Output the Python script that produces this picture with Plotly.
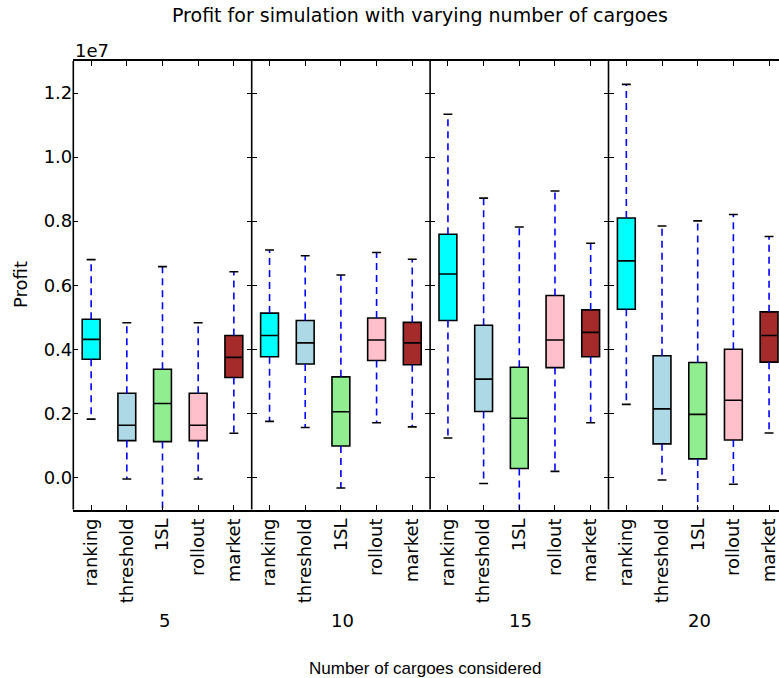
import plotly.graph_objects as go

# Strategies compared in each panel and the cargo counts that define the panels
strategies = ["ranking", "threshold", "1SL", "rollout", "market"]
cargo_counts = ["5", "10", "15", "20"]
box_colors = ["cyan", "lightblue", "lightgreen", "pink", "brown"]

# Box statistics per panel (profit), one entry per strategy
lower_whisker = {
    "5":  [1.82e6, -0.05e6, -1.50e6, -0.05e6, 1.38e6],
    "10": [1.75e6, 1.56e6, -0.33e6, 1.71e6, 1.58e6],
    "15": [1.23e6, -0.19e6, -1.80e6, 0.19e6, 1.71e6],
    "20": [2.28e6, -0.08e6, -2.00e6, -0.21e6, 1.39e6],
}
q1 = {
    "5":  [3.69e6, 1.15e6, 1.12e6, 1.15e6, 3.12e6],
    "10": [3.77e6, 3.54e6, 0.98e6, 3.65e6, 3.52e6],
    "15": [4.90e6, 2.06e6, 0.28e6, 3.43e6, 3.77e6],
    "20": [5.25e6, 1.05e6, 0.58e6, 1.17e6, 3.60e6],
}
median = {
    "5":  [4.31e6, 1.63e6, 2.31e6, 1.63e6, 3.75e6],
    "10": [4.43e6, 4.20e6, 2.05e6, 4.29e6, 4.20e6],
    "15": [6.35e6, 3.07e6, 1.85e6, 4.29e6, 4.53e6],
    "20": [6.76e6, 2.14e6, 1.97e6, 2.41e6, 4.43e6],
}
q3 = {
    "5":  [4.94e6, 2.63e6, 3.38e6, 2.63e6, 4.43e6],
    "10": [5.13e6, 4.90e6, 3.14e6, 4.98e6, 4.84e6],
    "15": [7.59e6, 4.75e6, 3.44e6, 5.68e6, 5.23e6],
    "20": [8.10e6, 3.80e6, 3.59e6, 4.00e6, 5.17e6],
}
upper_whisker = {
    "5":  [6.80e6, 4.83e6, 6.58e6, 4.83e6, 6.42e6],
    "10": [7.10e6, 6.92e6, 6.32e6, 7.02e6, 6.81e6],
    "15": [11.34e6, 8.72e6, 7.82e6, 8.94e6, 7.31e6],
    "20": [12.27e6, 7.85e6, 8.01e6, 8.21e6, 7.52e6],
}

y_ticks = [0, 2e6, 4e6, 6e6, 8e6, 10e6, 12e6]
y_tick_text = ["0.0", "0.2", "0.4", "0.6", "0.8", "1.0", "1.2"]

W, H = 779, 678
FONT = "DejaVu Sans"


def fx(x):
    return x / W


def fy(y):
    return 1 - y / H


panel_left = [73.3, 251.7, 430.1, 608.5]
panel_w = 178.4
unit = panel_w / 5.0
plot_top, plot_bottom = 61, 509.5
y_dom = [fy(plot_bottom), fy(plot_top)]
box_w = 0.5
cap_half = 0.125

fig = go.Figure()
layout_axes = {}

for g, n in enumerate(cargo_counts):
    sfx = "" if g == 0 else str(g + 1)
    xa, ya = "x" + sfx, "y" + sfx
    for i, name in enumerate(strategies):
        pos = i + 1
        lo, a, m, b, hi = (lower_whisker[n][i], q1[n][i], median[n][i],
                           q3[n][i], upper_whisker[n][i])
        # dashed whiskers
        fig.add_trace(go.Scatter(
            x=[pos, pos, None, pos, pos], y=[b, hi, None, a, lo],
            mode="lines", line=dict(color="blue", width=1.6, dash="7px,5px"),
            hoverinfo="skip", showlegend=False, xaxis=xa, yaxis=ya))
        # whisker caps
        fig.add_trace(go.Scatter(
            x=[pos - cap_half, pos + cap_half, None, pos - cap_half, pos + cap_half],
            y=[hi, hi, None, lo, lo],
            mode="lines", line=dict(color="black", width=1.6),
            hoverinfo="skip", showlegend=False, xaxis=xa, yaxis=ya))
        # box with median
        fig.add_trace(go.Box(
            x=[pos], q1=[a], median=[m], q3=[b], lowerfence=[a], upperfence=[b],
            width=box_w, whiskerwidth=0, boxpoints=False,
            fillcolor=box_colors[i], line=dict(color="black", width=1.6),
            showlegend=False, xaxis=xa, yaxis=ya))

    left = panel_left[g]
    right = min(left + panel_w, W)
    x_hi = 0.5 + (right - left) / unit
    layout_axes["xaxis" + sfx] = dict(
        domain=[fx(left), fx(right)], anchor=ya, range=[0.5, x_hi],
        tickmode="array", tickvals=[1, 2, 3, 4, 5], ticktext=strategies,
        tickangle=-90, ticks="inside", ticklen=5, tickwidth=1, tickcolor="black",
        showline=True, linecolor="black", linewidth=1.5, mirror="ticks",
        showgrid=False, zeroline=False,
        tickfont=dict(family=FONT, size=18, color="black"))
    layout_axes["yaxis" + sfx] = dict(
        domain=y_dom, anchor=xa, range=[-1e6, 1.3e7],
        tickmode="array", tickvals=y_ticks, ticktext=y_tick_text,
        showticklabels=(g == 0), ticks="inside", ticklen=5, tickwidth=1,
        tickcolor="black", showline=False,
        mirror=("ticks" if right < W else False),
        showgrid=False, zeroline=False,
        tickfont=dict(family=FONT, size=18, color="black"))

# vertical spines shared between neighbouring panels
shapes = [
    dict(type="line", xref="paper", yref="paper",
         x0=fx(x), x1=fx(x), y0=fy(plot_bottom), y1=fy(plot_top),
         line=dict(color="black", width=1.6))
    for x in panel_left
]

annotations = [
    dict(text="Profit for simulation with varying number of cargoes",
         x=fx(420), y=fy(14.5), xanchor="center", yanchor="middle",
         font=dict(family=FONT, size=19, color="black")),
    dict(text="1e7", x=fx(73), y=fy(50), xanchor="left", yanchor="middle",
         font=dict(family=FONT, size=18, color="black")),
    dict(text="Profit", x=fx(20), y=fy(285), xanchor="center", yanchor="middle",
         textangle=-90, font=dict(family=FONT, size=18, color="black")),
    dict(text="Number of cargoes considered", x=fx(425), y=fy(668),
         xanchor="center", yanchor="middle",
         font=dict(family="Liberation Sans", size=17, color="black")),
]
for g, n in enumerate(cargo_counts):
    annotations.append(dict(
        text=n, x=fx(panel_left[g] + panel_w / 2 + 1.5), y=fy(620),
        xanchor="center", yanchor="middle",
        font=dict(family=FONT, size=18, color="black")))

for a in annotations:
    a.update(xref="paper", yref="paper", showarrow=False)

fig.update_layout(
    width=W, height=H, template="none",
    margin=dict(l=0, r=0, t=0, b=0, autoexpand=False),
    paper_bgcolor="white", plot_bgcolor="white",
    font=dict(family=FONT, size=18, color="black"),
    showlegend=False, annotations=annotations, shapes=shapes, **layout_axes)

fig.write_html("out.html")
